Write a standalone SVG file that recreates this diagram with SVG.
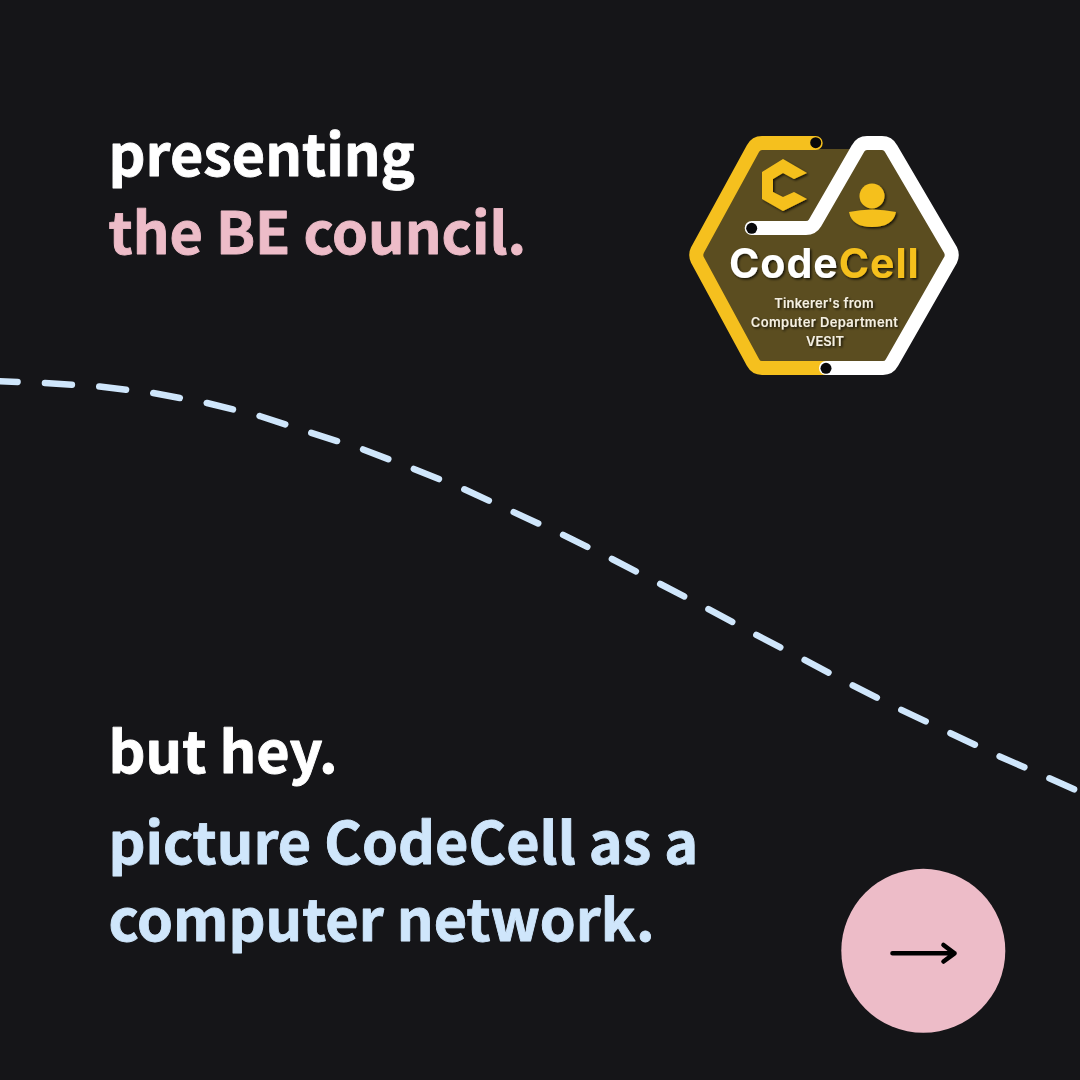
<svg xmlns="http://www.w3.org/2000/svg" width="1080" height="1080" viewBox="0 0 1080 1080">
<defs>
<filter id="sh" x="-20%" y="-20%" width="140%" height="140%"><feDropShadow dx="1.5" dy="1.5" stdDeviation="1" flood-color="#000" flood-opacity=".75"/></filter>
</defs>
<style>
.h{font-family:"Noto Sans CJK SC","Noto Sans",sans-serif;font-weight:700;font-size:57.500px;stroke-width:.9px;stroke-linejoin:round}
.l{font-family:"Inter","Liberation Sans",sans-serif;font-weight:700}
.t{font-size:13px;font-weight:600;fill:#f4efe2;filter:url(#sh);text-anchor:middle}
.ring{fill:none;stroke-width:14;stroke-linecap:round;stroke-linejoin:round}
</style>
<rect width="1080" height="1080" fill="#151518"/>
<g id="connectors">
<path d="M-9.400 381 L44.600 383 L99.600 386.500 L153 393 L207 403 L259.600 416 L311 432.700 L362.800 449.300 L413.700 468.900 L463.700 489 L513.400 512 L562.700 534.700 L612 559 L660.300 584 L708.300 609 L755.900 634.700 L804.300 659.800 L852.700 685.400 L901 709.700 L950 733 L999.400 756.300 L1048.700 778 L1098 800" fill="none" stroke="#cfe6fb" stroke-width="6.500" stroke-linecap="round" stroke-linejoin="round" stroke-dasharray="27 27.400"/>
</g>
<g id="heading">
<text class="h" x="108.500" y="176" fill="#ffffff" stroke="#ffffff">presenting</text>
<text class="h" x="108.500" y="254" fill="#edbcc8" stroke="#edbcc8">the BE council.</text>
</g>
<g id="footer">
<text class="h" x="108.500" y="772.500" fill="#ffffff" stroke="#ffffff">but hey.</text>
<text class="h" x="108.500" y="864" fill="#cfe6fb" stroke="#cfe6fb">picture CodeCell as a</text>
<text class="h" x="108.500" y="940.500" fill="#cfe6fb" stroke="#cfe6fb">computer network.</text>
</g>
<g id="logo">
<path d="M757 149 L855 149 L812 228 L860 143 L888 143 L953 255 L890 368 L757 368 L695 255 Z" fill="#5b4d20"/>
<path class="ring" d="M815.700 143 L762 143 Q756 143 753 148.500 L697.500 250 Q695 255 697.500 260 L753 362.500 Q756 368 762 368 L826 368" stroke="#f5c01e"/>
<path class="ring" d="M826 368 L883 368 Q889 368 892 362.500 L950.500 260 Q953 255 950.500 250 L891 148.500 Q888 143 882 143 L867 143 Q861 143 858 148.500 L815 223 Q812 228 806 228 L751.700 228" stroke="#ffffff"/>
<circle cx="815.700" cy="142.700" r="5.500" fill="#08080a"/>
<circle cx="751.700" cy="228.300" r="5.500" fill="#08080a"/>
<circle cx="826" cy="368.300" r="5.500" fill="#08080a"/>
<g filter="url(#sh)" fill="#f5c01e">
<path d="M783 159 L807 173 L794 179 L783 173 L773 179 L773 192 L783 197 L794 192 L807 199 L783 211 L762 199 L762 172 Z"/>
<circle cx="872" cy="196" r="12.500"/>
<path d="M849 212 Q872 207 896 212 Q893 227 872 227 Q852 227 849 212 Z"/>
</g>
<text class="l" x="729" y="278" font-size="41" letter-spacing="1" fill="#ffffff" filter="url(#sh)">Code<tspan fill="#f5c01e">Cell</tspan></text>
<text class="l t" x="824" y="308.300" letter-spacing=".2">Tinkerer's from</text>
<text class="l t" x="824.500" y="326.700" letter-spacing=".37">Computer Department</text>
<text class="l t" x="825" y="345.700">VESIT</text>
</g>
<g id="next-button">
<circle cx="923.300" cy="950.800" r="82" fill="#edbcc8"/>
<path d="M892.500 953.300 L954.500 953.300 M943.500 945 L954.500 953.300 L943.500 961.500" fill="none" stroke="#000" stroke-width="4.600" stroke-linecap="round" stroke-linejoin="round"/>
</g>
</svg>
